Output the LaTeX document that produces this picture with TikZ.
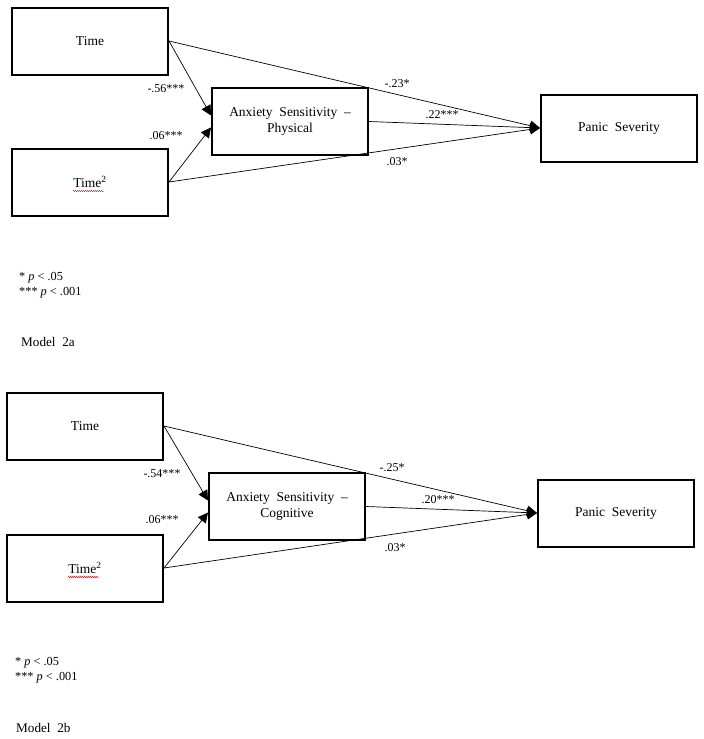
\documentclass[tikz,border=0pt]{standalone}
\usepackage{fontspec}
\setmainfont{Liberation Serif}
\usetikzlibrary{arrows.meta,calc,decorations.pathmorphing}
\begin{document}
\begin{tikzpicture}[x=1pt,y=-1pt,
  box/.style={draw,line width=2pt,minimum width=156pt,minimum height=67pt,inner sep=0pt,
    font=\fontsize{13.5}{16.5}\selectfont,align=center},
  conn/.style={line width=0.7pt,-{Triangle[length=10pt,width=10pt]}},
  coef/.style={font=\fontsize{12}{13}\selectfont,inner sep=0pt},
  note/.style={font=\fontsize{12.3}{14}\selectfont,anchor=west,inner sep=0pt},
  model/.style={font=\fontsize{13.2}{15}\selectfont,anchor=west,inner sep=0pt},
  spell/.style={red,line width=0.4pt,decorate,decoration={snake,amplitude=0.6pt,segment length=2pt}}]
\useasboundingbox (0,0) rectangle (704,739);
\fill[white] (0,0) rectangle (704,739);

% ---------- Model 2a ----------
\node[box] (t1) at (90,41) {Time};
\node[box] (q1) at (90,182) {Time\textsuperscript{2}};
\node[box] (a1) at (290,121.5) {Anxiety\ \ Sensitivity\ \ --\\Physical};
\node[box] (p1) at (619,128) {Panic\ \ Severity};
\draw[spell] ($(q1.center)+(-17,9)$) -- ($(q1.center)+(14,9)$);

\draw[conn] (t1.east) -- ($(a1.west)+(0,-6)$);
\draw[conn] (q1.east) -- ($(a1.west)+(0,6)$);
\draw[conn] (t1.east) -- (p1.west);
\draw[conn] (q1.east) -- (p1.west);
\draw[conn] (a1.east) -- (p1.west);

\node[coef] (c1) at (166,89) {-.56***};
\node[coef] (c2) at (166,136) {.06***};
\node[coef] (c3) at (397,84) {-.23*};
\node[coef] (c4) at (442,115) {.22***};
\node[coef] (c5) at (397,162) {.03*};

\node[note] (n1) at (19,278) {* \textit{p} < .05};
\node[note] (n2) at (19,293) {*** \textit{p} < .001};
\node[model] (m1) at (21,342) {Model\ \ 2a};

% ---------- Model 2b ----------
\node[box] (t2) at (85,426) {Time};
\node[box] (q2) at (85,568) {Time\textsuperscript{2}};
\node[box] (a2) at (287,506.5) {Anxiety\ \ Sensitivity\ \ --\\Cognitive};
\node[box] (p2) at (616,513) {Panic\ \ Severity};
\draw[spell] ($(q2.center)+(-17,9)$) -- ($(q2.center)+(14,9)$);

\draw[conn] (t2.east) -- ($(a2.west)+(0,-6)$);
\draw[conn] (q2.east) -- ($(a2.west)+(0,6)$);
\draw[conn] (t2.east) -- (p2.west);
\draw[conn] (q2.east) -- (p2.west);
\draw[conn] (a2.east) -- (p2.west);

\node[coef] (d1) at (162,474) {-.54***};
\node[coef] (d2) at (162,520) {.06***};
\node[coef] (d3) at (392,468) {-.25*};
\node[coef] (d4) at (438,500) {.20***};
\node[coef] (d5) at (395,548) {.03*};

\node[note] (n3) at (15,663) {* \textit{p} < .05};
\node[note] (n4) at (15,678) {*** \textit{p} < .001};
\node[model] (m2) at (16,728) {Model\ \ 2b};
\end{tikzpicture}
\end{document}
